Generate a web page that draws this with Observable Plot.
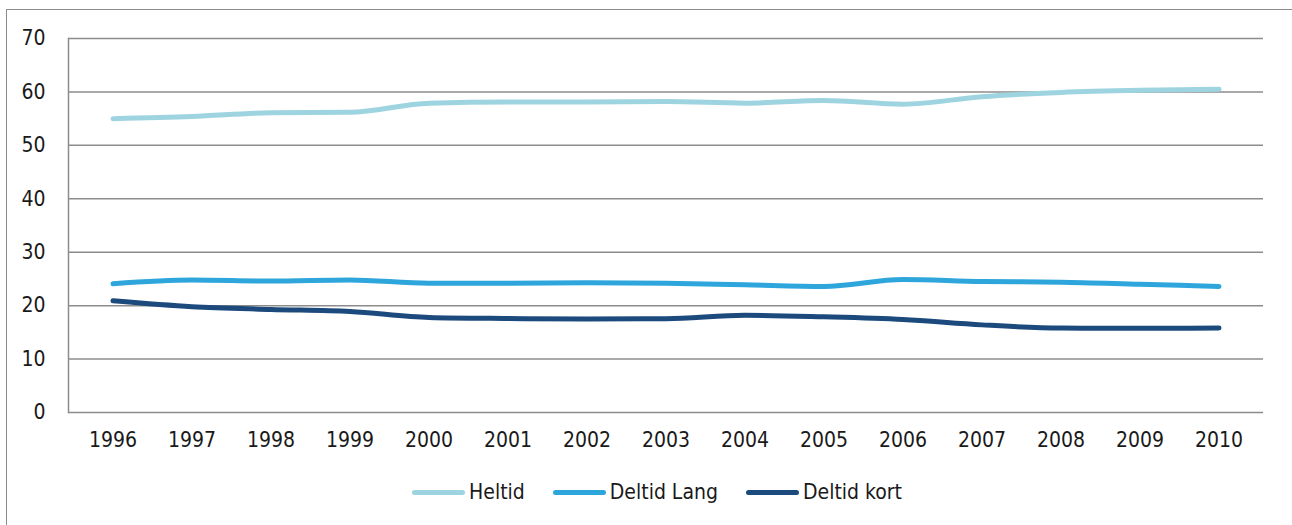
<!DOCTYPE html>
<html>
<head>
<meta charset="utf-8">
<script src="https://cdn.jsdelivr.net/npm/d3@7"></script>
<script src="https://cdn.jsdelivr.net/npm/@observablehq/plot@0.6"></script>
<style>
  html, body { margin: 0; padding: 0; background: #fff; width: 1292px; height: 525px; overflow: hidden; }
  body { position: relative; font-family: "Liberation Sans Narrow", "DejaVu Sans Condensed", "Roboto", sans-serif; }
  #border { position: absolute; left: 6px; top: 9px; width: 1300px; height: 540px; border: 1.5px solid #8c8c8c; box-sizing: border-box; }
  #chart { position: absolute; left: 0; top: 0; }
  #legend { position: absolute; left: 0; top: 480px; width: 1292px; display: flex; justify-content: center; padding-left: 22px; box-sizing: border-box; font-size: 21px; color: #1a1a1a; }
  .item { display: flex; align-items: center; margin: 0 14px; }
  .sw { width: 53px; height: 5px; border-radius: 3px; margin-right: 4px; }
</style>
</head>
<body>
<div id="border"></div>
<div id="chart"></div>
<div id="legend"></div>
<script>
const years = ["1996","1997","1998","1999","2000","2001","2002","2003","2004","2005","2006","2007","2008","2009","2010"];
const heltid      = [55.0, 55.4, 56.1, 56.2, 57.9, 58.1, 58.1, 58.2, 57.9, 58.4, 57.7, 59.1, 59.9, 60.3, 60.5];
const deltidLang  = [24.1, 24.8, 24.6, 24.8, 24.2, 24.2, 24.3, 24.2, 23.9, 23.6, 24.9, 24.5, 24.4, 24.0, 23.6];
const deltidKort  = [20.9, 19.8, 19.3, 18.9, 17.8, 17.6, 17.5, 17.55, 18.2, 17.9, 17.4, 16.4, 15.8, 15.75, 15.8];
const seriesNames = ["Heltid", "Deltid Lang", "Deltid kort"];
const seriesColors = ["#9dd4e0", "#2ea6dc", "#1c4a7c"];
const yTicks = [0, 10, 20, 30, 40, 50, 60, 70];

const allSeries = [heltid, deltidLang, deltidKort];
const rows = [];
allSeries.forEach((vals, si) => {
  vals.forEach((v, i) => rows.push({year: years[i], value: v, series: seriesNames[si]}));
});

const chart = Plot.plot({
  width: 1292,
  height: 460,
  marginTop: 38,
  marginBottom: 48,
  marginLeft: 68,
  marginRight: 29,
  style: {fontFamily: '"Liberation Sans Narrow", "DejaVu Sans Condensed", "Roboto", sans-serif', fontSize: "21px", color: "#1a1a1a", background: "transparent"},
  x: {type: "band", domain: years, padding: 0},
  y: {domain: [0, 70]},
  color: {domain: seriesNames, range: seriesColors},
  marks: [
    Plot.gridY(yTicks, {stroke: "#8c8c8c", strokeOpacity: 1, strokeWidth: 1.5}),
    Plot.frame({anchor: "left", stroke: "#8c8c8c", strokeWidth: 1.5}),
    Plot.axisY(yTicks, {tickSize: 0, tickPadding: 23, label: null, fontSize: 21}),
    Plot.axisX(years, {tickSize: 0, tickPadding: 20, label: null, fontSize: 21}),
    Plot.lineY(rows, {x: "year", y: "value", z: "series", stroke: "series", strokeWidth: 5, curve: "monotone-x", strokeLinecap: "round", strokeLinejoin: "round"})
  ]
});
document.getElementById("chart").appendChild(chart);

const legend = document.getElementById("legend");
seriesNames.forEach((name, i) => {
  const it = document.createElement("div");
  it.className = "item";
  const sw = document.createElement("div");
  sw.className = "sw";
  sw.style.background = seriesColors[i];
  const tx = document.createElement("span");
  tx.textContent = name;
  it.appendChild(sw);
  it.appendChild(tx);
  legend.appendChild(it);
});
</script>
</body>
</html>
